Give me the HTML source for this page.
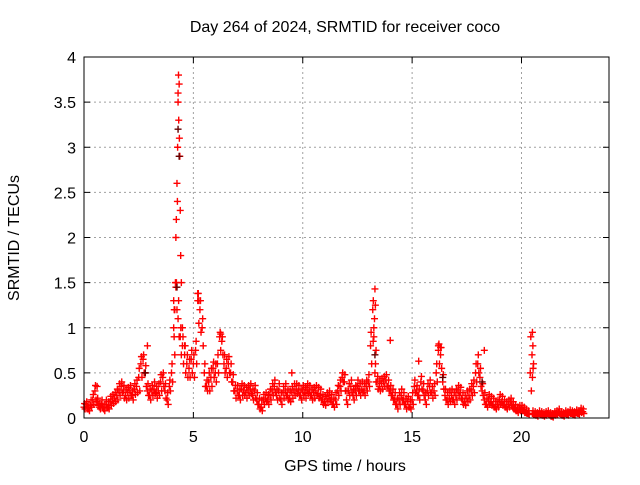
<!DOCTYPE html>
<html><head><meta charset="utf-8"><style>
body{margin:0;background:#fff}
svg text{font-family:"Liberation Sans",sans-serif;font-size:16px;fill:#000}
</style></head><body>
<svg id="c" width="640" height="480">
<text x="345" y="32" text-anchor="middle">Day 264 of 2024, SRMTID for receiver coco</text>
<text x="345" y="471" text-anchor="middle">GPS time / hours</text>
<text transform="translate(19,238) rotate(-90)" text-anchor="middle">SRMTID / TECUs</text>
<g id="grid"></g><g id="ticks"></g><g id="marks"></g>
<rect x="84" y="57" width="525" height="361" fill="none" stroke="#000" stroke-width="1"/>
</svg>
<script>
const xTicks=[0,5,10,15,20];
const yTicks=[0,0.5,1,1.5,2,2.5,3,3.5,4];
const yTickLabels=["0","0.5","1","1.5","2","2.5","3","3.5","4"];
const baseStep=0.1;
const baseValues=[.12,.15,.1,.14,.2,.3,.18,.12,.15,.1,
.15,.12,.18,.2,.22,.25,.3,.35,.3,.25,
.28,.3,.25,.32,.35,.45,.6,.65,.5,.3,
.25,.3,.32,.28,.3,.4,.45,.3,.2,.35,
.5,1.0,1.45,1.1,.9,.8,.7,.6,.55,.65,
.6,.75,1.3,1.2,1.0,.5,.35,.4,.45,.55,
.5,.6,.9,.85,.6,.55,.6,.5,.4,.3,
.3,.25,.32,.3,.28,.3,.32,.25,.3,.2,
.15,.12,.2,.22,.2,.25,.3,.35,.25,.3,
.2,.28,.3,.25,.22,.28,.3,.32,.3,.25,
.3,.28,.32,.3,.25,.28,.3,.27,.25,.2,
.18,.22,.25,.2,.15,.2,.3,.35,.45,.4,
.2,.3,.35,.25,.3,.35,.3,.32,.3,.35,
.4,.8,1.2,.5,.4,.35,.38,.4,.42,.35,
.3,.25,.2,.15,.2,.25,.2,.15,.18,.12,
.2,.35,.3,.25,.4,.3,.2,.3,.35,.28,
.3,.5,.75,.7,.4,.25,.2,.22,.25,.2,
.25,.3,.28,.2,.18,.22,.25,.3,.35,.5,
.6,.45,.3,.2,.15,.2,.18,.15,.12,.15,
.2,.18,.15,.12,.15,.18,.12,.1,.08,.1,
.1,.08,.06,.05,.5,.05,.04,.03,.05,.04,
.03,.04,.05,.03,.02,.04,.05,.06,.04,.03,
.05,.04,.06,.05,.04,.06,.05,.08,.07];
const lowValues=[.1,.1,.08,.12,.15,.2,.14,.1,.12,.08,
.12,.1,.14,.16,.18,.2,.25,.28,.22,.2,
.22,.25,.2,.26,.28,.3,.45,.5,.35,.25,
.2,.25,.27,.22,.25,.3,.35,.22,.15,.3,
.4,.7,1.2,.9,.7,.6,.5,.45,.45,.5,
.45,.6,1.05,.95,.8,.35,.3,.3,.35,.45,
.4,.5,.75,.7,.5,.45,.5,.4,.3,.22,
.25,.2,.25,.25,.22,.25,.27,.2,.22,.15,
.1,.08,.15,.18,.15,.2,.25,.28,.2,.22,
.15,.22,.25,.2,.18,.22,.25,.27,.25,.2,
.25,.22,.27,.25,.2,.22,.25,.22,.2,.15,
.14,.18,.2,.15,.12,.15,.25,.3,.4,.3,
.15,.25,.28,.2,.25,.3,.25,.28,.25,.3,
.35,.6,.9,.4,.32,.3,.32,.35,.35,.3,
.25,.2,.15,.1,.15,.2,.15,.1,.12,.1,
.15,.28,.25,.2,.32,.25,.15,.25,.28,.22,
.25,.4,.6,.55,.32,.2,.15,.18,.2,.15,
.2,.25,.22,.15,.14,.18,.2,.25,.28,.4,
.5,.35,.25,.15,.12,.15,.14,.12,.1,.12,
.15,.14,.12,.1,.12,.14,.1,.08,.06,.08,
.08,.06,.05,.04,.3,.04,.03,.02,.04,.03,
.02,.03,.04,.02,.01,.03,.04,.05,.03,.02,
.04,.03,.05,.04,.03,.05,.04,.06,.05];
const highValues=[.16,.18,.14,.2,.26,.36,.22,.16,.2,.15,
.2,.18,.24,.26,.28,.32,.38,.4,.36,.32,
.34,.36,.3,.38,.42,.55,.68,.7,.58,.38,
.32,.36,.4,.35,.38,.48,.5,.38,.28,.42,
.6,1.2,1.5,1.3,1.0,.9,.8,.7,.65,.75,
.7,.85,1.38,1.3,1.1,.6,.42,.5,.55,.62,
.6,.7,.95,.9,.7,.65,.68,.6,.48,.36,
.36,.32,.38,.36,.34,.36,.38,.32,.36,.28,
.22,.2,.26,.28,.26,.32,.38,.42,.32,.38,
.28,.35,.38,.32,.3,.35,.38,.38,.36,.32,
.36,.34,.38,.36,.32,.34,.36,.34,.32,.26,
.24,.28,.3,.26,.22,.28,.36,.42,.5,.48,
.3,.38,.42,.32,.36,.42,.38,.4,.38,.42,
.48,.95,1.3,.6,.46,.42,.44,.46,.48,.42,
.36,.32,.28,.22,.28,.32,.28,.22,.24,.2,
.28,.42,.36,.32,.46,.38,.28,.38,.42,.35,
.38,.6,.82,.78,.48,.32,.28,.3,.32,.28,
.32,.36,.34,.28,.25,.3,.32,.38,.42,.6,
.7,.55,.38,.28,.22,.26,.24,.22,.18,.2,
.26,.24,.2,.18,.2,.22,.18,.15,.12,.14,
.14,.12,.1,.08,.9,.08,.07,.06,.08,.07,
.06,.07,.08,.06,.05,.07,.08,.1,.07,.06,
.08,.07,.09,.08,.07,.09,.08,.11,.1];
const spikeTimes=[4.2,4.25,4.28,4.3,4.32,4.35,4.33,4.38,4.4,4.42,4.45,4.18,4.1,4.5,4.6,13.3,13.32,13.25,13.35,15.3,14.0,20.5,20.52,20.55,20.5,2.9,18.3,0.6,9.5,16.2,16.3,5.2,5.25,6.25,4.22,4.3,4.36,4.27,4.15,4.12,13.28,13.22,20.48,20.53];
const spikeValues=[2.0,2.6,3.0,3.5,3.8,3.7,3.3,2.9,2.3,1.8,1.5,1.5,1.3,1.0,0.8,1.43,1.25,1.0,0.75,0.63,0.86,0.95,0.8,0.6,0.45,0.8,0.75,0.35,0.5,0.8,0.78,1.38,1.3,0.93,2.2,3.6,3.1,2.4,1.2,0.9,1.1,0.85,0.7,0.55];
const darkTimes=[4.3,4.35,4.25,13.3,16.4,2.8,18.2];
const darkValues=[3.2,2.9,1.45,0.7,0.45,0.5,0.4];
const X0=84,X1=609,Y0=418,Y1=57,XMAX=24,YMAX=4;
const xs=t=>X0+t*(X1-X0)/XMAX, ys=v=>Y0-v*(Y0-Y1)/YMAX;
const NS="http://www.w3.org/2000/svg";
const grid=document.getElementById('grid'),ticks=document.getElementById('ticks'),marks=document.getElementById('marks');
function mk(tag,attrs,parent){const e=document.createElementNS(NS,tag);for(const k in attrs)e.setAttribute(k,attrs[k]);parent.appendChild(e);return e;}
xTicks.forEach(t=>{const x=xs(t);
 if(t>0){const g=mk('line',{x1:x,x2:x,y1:Y1,y2:Y0,stroke:'#a0a0a0','stroke-dasharray':'2,3'},grid);
 
 }
 mk('line',{x1:x,x2:x,y1:Y0,y2:Y0-6,stroke:'#000'},ticks);mk('line',{x1:x,x2:x,y1:Y1,y2:Y1+6,stroke:'#000'},ticks);
 const l=mk('text',{x:x,y:Y0+24,'text-anchor':'middle'},ticks);l.textContent=t;
 
 });
yTicks.forEach((v,i)=>{const y=ys(v);
 if(v>0&&v<YMAX){const g=mk('line',{x1:X0,x2:X1,y1:y,y2:y,stroke:'#a0a0a0','stroke-dasharray':'2,3'},grid);
 
 }
 mk('line',{x1:X0,x2:X0+6,y1:y,y2:y,stroke:'#000'},ticks);mk('line',{x1:X1,x2:X1-6,y1:y,y2:y,stroke:'#000'},ticks);
 const l=mk('text',{x:X0-8,y:y+6,'text-anchor':'end'},ticks);l.textContent=yTickLabels[i];
 
 });
function plus(t,v,col){const x=xs(t),y=ys(v);
 const p=mk('path',{d:`M${x-3.5},${y}h7M${x},${y-3.5}v7`,stroke:col,'stroke-width':1.4},marks);
 
 }
baseValues.forEach((v,i)=>plus(i*baseStep,v,'#f00'));
lowValues.forEach((v,i)=>plus(i*baseStep+0.05,v,'#f00'));
highValues.forEach((v,i)=>plus(i*baseStep+0.025,v,'#f00'));
spikeTimes.forEach((t,i)=>plus(t,spikeValues[i],'#f00'));
darkTimes.forEach((t,i)=>plus(t,darkValues[i],'#600'));
</script>
</body></html>
